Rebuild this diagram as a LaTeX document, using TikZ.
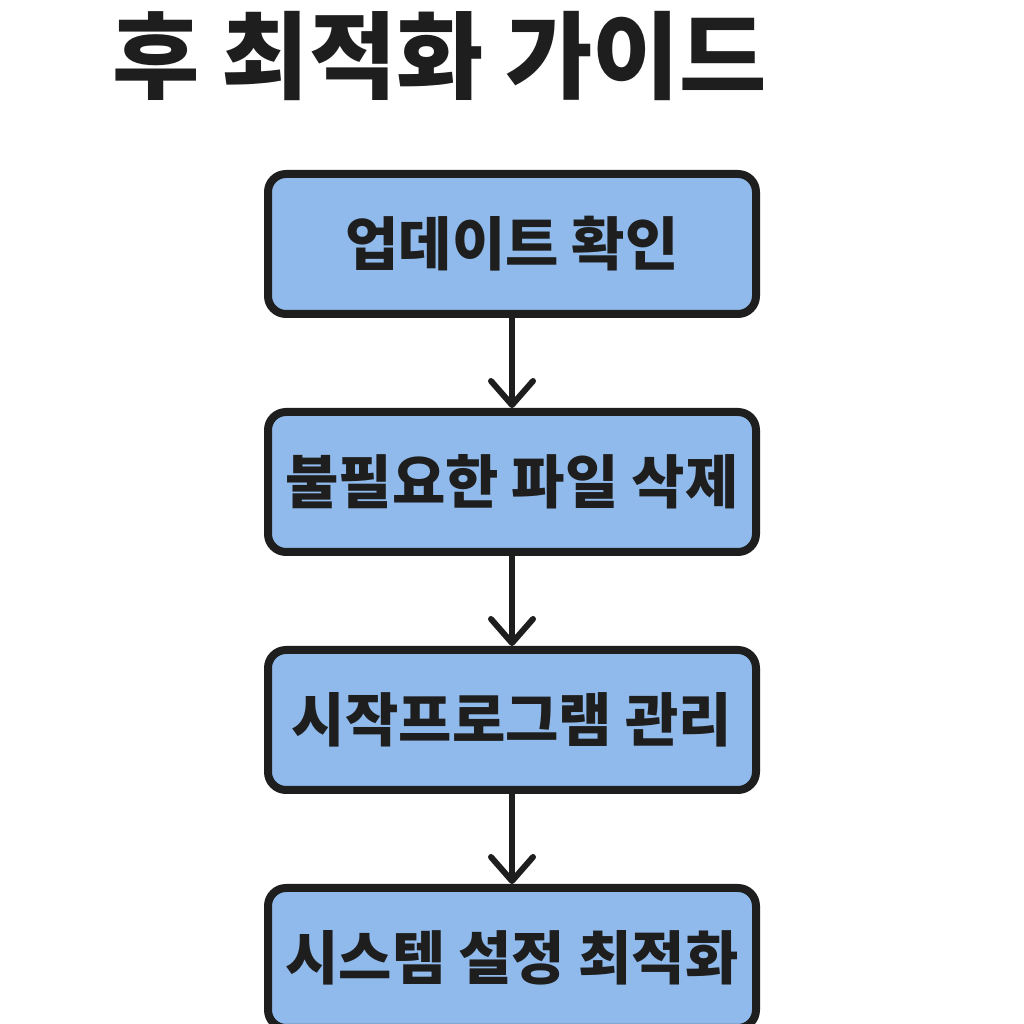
\documentclass[tikz,border=0pt]{standalone}
\usepackage{xcolor}
\usepackage{fontspec}
\setmainfont{Noto Sans CJK KR}
\usepackage{tikz}
\usetikzlibrary{shapes, arrows.meta, positioning, calc}
\definecolor{boxblue}{RGB}{143,186,235}
\definecolor{inkdark}{RGB}{30,30,30}
\tikzset{
    stepbox/.style={
        rectangle, draw=inkdark, fill=boxblue, line width=0.08cm,
        minimum width=4.88cm, minimum height=1.40cm,
        rounded corners=0.18cm, text centered, text=inkdark,
        font=\fontsize{16.5}{18}\selectfont\bfseries
    },
    title/.style={
        text=inkdark, inner sep=0pt,
        font=\fontsize{27}{30}\selectfont\bfseries
    },
    line/.style={draw=inkdark, line width=0.06cm, line cap=round,
        -{Straight Barb[length=0.24cm, width=0.42cm, line cap=round, line join=round]}}
}
\begin{document}
\begin{tikzpicture}[node distance=0.90cm]
        \useasboundingbox[fill=white] (0,0) rectangle (10.24,10.24);
        % Nodes
        \node [title] (head) at (4.40,9.68) {후 최적화 가이드};
        \node [stepbox] (update) at (5.12,7.80) {업데이트 확인};
        \node [stepbox, below=of update] (clean) {불필요한 파일 삭제};
        \node [stepbox, below=of clean] (startup) {시작프로그램 관리};
        \node [stepbox, below=of startup] (tune) {시스템 설정 최적화};

        % Edges
        \draw [line] (update) -- (clean);
        \draw [line] (clean) -- (startup);
        \draw [line] (startup) -- (tune);
    \end{tikzpicture}
\end{document}
